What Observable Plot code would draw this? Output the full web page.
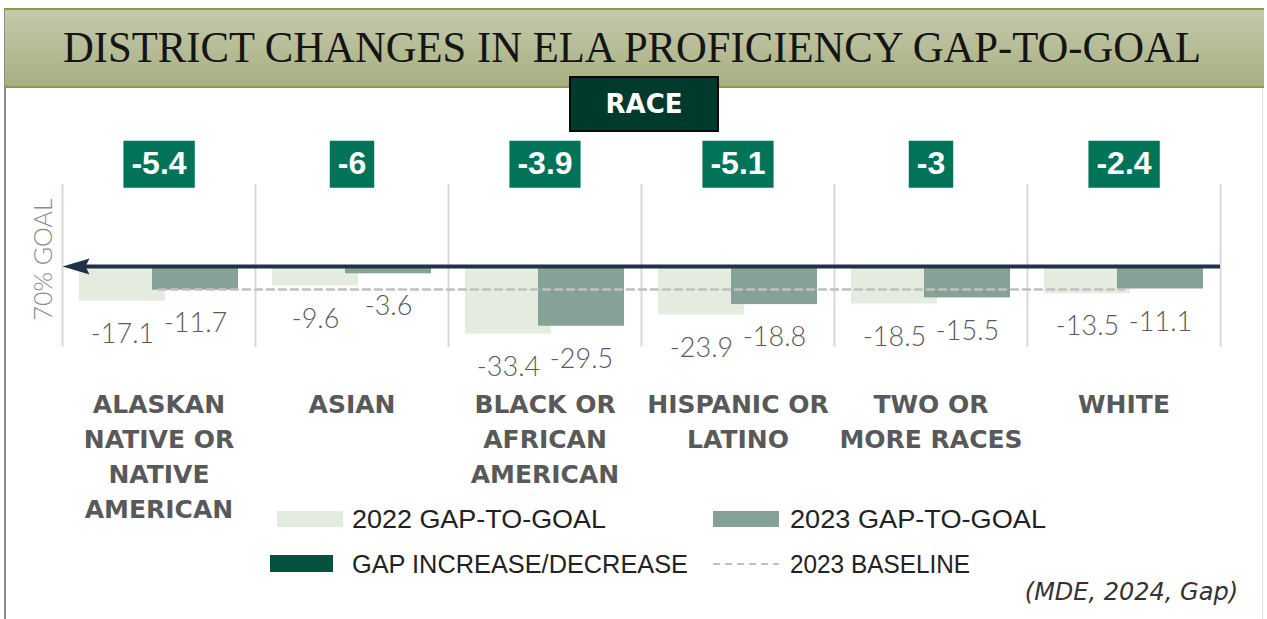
<!DOCTYPE html>
<html>
<head>
<meta charset="utf-8">
<script src="https://cdn.jsdelivr.net/npm/d3@7"></script>
<script src="https://cdn.jsdelivr.net/npm/@observablehq/plot@0.6"></script>
<style>
  html, body { margin: 0; padding: 0; background: #fff; }
  #wrap { position: relative; width: 1267px; height: 619px; overflow: hidden; background: #fff; }
  #header { position: absolute; left: 4px; top: 8px; width: 1260px; height: 80px; box-sizing: border-box;
            border-top: 2px solid #8e9a48; border-bottom: 2px solid #8e9a48; border-left: 1px solid #8c8c8c;
            background: linear-gradient(#c4caac, #a8af81); }
  #header svg { position: absolute; left: 0; top: 0; }
  #lborder { position: absolute; left: 4px; top: 88px; width: 2px; height: 531px; background: #8a8a8a; }
  #rborder { position: absolute; left: 1262px; top: 88px; width: 1px; height: 531px; background: #e0e0e0; }
  #chart { position: absolute; left: 0; top: 88px; }
  #race { position: absolute; left: 569px; top: 76px; width: 150px; height: 56px; box-sizing: border-box;
          background: #003a2c; border: 2px solid #0a0a0a; color: #fff; font: bold 26px 'DejaVu Sans', sans-serif;
          display: flex; align-items: center; justify-content: center; z-index: 3; }
  #legend { position: absolute; left: 0; top: 0; pointer-events: none; }
  #caption { position: absolute; right: 29px; top: 578px; line-height: 30px; font: italic 24px 'DejaVu Sans', sans-serif; color: #333; }
</style>
</head>
<body>
<div id="wrap">
  <div id="header"></div>
  <div id="lborder"></div>
  <div id="rborder"></div>
  <div id="chart"></div>
  <div id="race"></div>
  <svg id="legend" width="1267" height="619"></svg>
  <div id="caption"></div>
</div>
<script>
// ---------- data ----------
const title = "DISTRICT CHANGES IN ELA PROFICIENCY GAP-TO-GOAL";
const groupTitle = "RACE";
const categories = ["ALASKAN NATIVE OR NATIVE AMERICAN", "ASIAN", "BLACK OR AFRICAN AMERICAN", "HISPANIC OR LATINO", "TWO OR MORE RACES", "WHITE"];
const categoryLabels = ["ALASKAN\nNATIVE OR\nNATIVE\nAMERICAN", "ASIAN", "BLACK OR\nAFRICAN\nAMERICAN", "HISPANIC OR\nLATINO", "TWO OR\nMORE RACES", "WHITE"];
const gap2022 = [-17.1, -9.6, -33.4, -23.9, -18.5, -13.5];
const gap2023 = [-11.7, -3.6, -29.5, -18.8, -15.5, -11.1];
const gapChange = [-5.4, -6, -3.9, -5.1, -3, -2.4];
const baseline2023 = -11.3;
const goalLabel = "70% GOAL";
const legendLabels = ["2022 GAP-TO-GOAL", "2023 GAP-TO-GOAL", "GAP INCREASE/DECREASE", "2023 BASELINE"];
const caption = "(MDE, 2024, Gap)";

// ---------- colours ----------
const c2022 = "#e3ecdf", c2023 = "#86a196", cBadge = "#007358", cDark = "#02523f", cArrow = "#1f3246", cBase = "#c0c0c0";

// ---------- header ----------
d3.select("#header").append("svg").attr("width", 1259).attr("height", 76)
  .append("text").attr("x", 58).attr("y", 52)
  .attr("textLength", 1138).attr("lengthAdjust", "spacingAndGlyphs")
  .attr("font-family", "'Liberation Serif', 'DejaVu Serif', serif").attr("font-size", 45).attr("fill", "#151515")
  .text(title);
d3.select("#race").text(groupTitle);
d3.select("#caption").text(caption);

// ---------- chart ----------
const rows = categories.map((c, i) => ({cat: c, label: categoryLabels[i], g22: gap2022[i], g23: gap2023[i], chg: gapChange[i]}));
const half = 96.5; // half band width in px
const arrowHead = {
  draw(ctx) { ctx.moveTo(0, 0); ctx.lineTo(27, -8); ctx.lineTo(23, 0); ctx.lineTo(27, 8); ctx.closePath(); }
};
const valueStyle = {fill: "#595959", fontSize: 27, fontWeight: 300, fontFamily: "Lato, 'DejaVu Sans', sans-serif", dy: 33};

const plot = Plot.plot({
  width: 1267, height: 442,
  marginLeft: 62, marginRight: 47, marginTop: 96, marginBottom: 183,
  style: {background: "transparent", overflow: "visible"},
  x: {type: "band", domain: categories, padding: 0, axis: null},
  y: {domain: [-40, 40.5], axis: null},
  marks: [
    Plot.ruleX(categories, {x: d => d, dx: -half, stroke: "#d9d9d9", strokeWidth: 2}),
    Plot.ruleX(categories.slice(-1), {x: d => d, dx: half, stroke: "#d9d9d9", strokeWidth: 2}),
    Plot.barY(rows, {x: "cat", y: "g22", fill: c2022, insetLeft: 17, insetRight: 90}),
    Plot.barY(rows, {x: "cat", y: "g23", fill: c2023, insetLeft: 90, insetRight: 17}),
    Plot.lineY(categories, {x: d => d, y: () => baseline2023, stroke: cBase, strokeWidth: 2.5, strokeDasharray: "7,5"}),
    Plot.ruleY([0], {stroke: cArrow, strokeWidth: 4, insetLeft: 20}),
    Plot.dot([0], {x: () => categories[0], y: d => d, dx: -half, symbol: arrowHead, r: 10, fill: cArrow, stroke: "none"}),
    Plot.text(rows, {x: "cat", y: "g22", text: d => String(d.g22), dx: -36.5, ...valueStyle}),
    Plot.text(rows, {x: "cat", y: "g23", text: d => String(d.g23), dx: 36.5, ...valueStyle}),
    Plot.text(rows, {x: "cat", text: d => String(d.chg), frameAnchor: "top", lineAnchor: "middle", textAnchor: "middle", dy: -20.5, fill: "#ffffff",
      fontSize: 32, fontWeight: "bold", fontFamily: "'Liberation Sans Narrow', 'Liberation Sans', sans-serif", className: "badge"}),
    Plot.text(rows, {x: "cat", text: "label", frameAnchor: "bottom", lineAnchor: "top", dy: 41, lineHeight: 1.4,
      fontSize: 25, fontWeight: "bold", fill: "#595959", fontFamily: "'DejaVu Sans', sans-serif"}),
    Plot.text([goalLabel], {y: () => 0, text: d => d, frameAnchor: "left", textAnchor: "middle", lineAnchor: "middle", rotate: -90, dx: -19, dy: -7,
      fontSize: 25, fill: "#8a8a8a", fontFamily: "Lato, 'DejaVu Sans', sans-serif", fontWeight: 300})
  ]
});
document.getElementById("chart").appendChild(plot);

// badge backgrounds behind the change values
plot.querySelectorAll("g.badge text").forEach(t => {
  const b = t.getBBox();
  const r = document.createElementNS("http://www.w3.org/2000/svg", "rect");
  const cy = b.y + b.height / 2 + 1;
  r.setAttribute("x", b.x - 8);
  r.setAttribute("y", cy - 23.5);
  r.setAttribute("width", b.width + 16);
  r.setAttribute("height", 47);
  r.setAttribute("fill", cBadge);
  if (t.getAttribute("transform")) r.setAttribute("transform", t.getAttribute("transform"));
  t.parentNode.insertBefore(r, t);
});

// ---------- legend ----------
const lg = d3.select("#legend");
const legendItems = [
  {kind: "rect", color: c2022, sx: 277, sy: 511, sw: 66, sh: 16, tx: 352, ty: 528, tl: 254},
  {kind: "rect", color: c2023, sx: 713, sy: 511, sw: 66, sh: 16, tx: 790, ty: 528, tl: 256},
  {kind: "rect", color: cDark, sx: 270, sy: 555, sw: 63, sh: 17, tx: 352, ty: 573, tl: 336},
  {kind: "line", color: cBase, sx: 713, sy: 564, sw: 66, sh: 0, tx: 790, ty: 573, tl: 180}
];
legendItems.forEach((it, i) => {
  if (it.kind === "rect") {
    lg.append("rect").attr("x", it.sx).attr("y", it.sy).attr("width", it.sw).attr("height", it.sh).attr("fill", it.color);
  } else {
    lg.append("line").attr("x1", it.sx).attr("x2", it.sx + it.sw).attr("y1", it.sy).attr("y2", it.sy)
      .attr("stroke", it.color).attr("stroke-width", 2).attr("stroke-dasharray", "7,5");
  }
  lg.append("text").attr("x", it.tx).attr("y", it.ty).attr("textLength", it.tl).attr("lengthAdjust", "spacingAndGlyphs")
    .attr("font-family", "'Liberation Sans Narrow', 'Liberation Sans', sans-serif").attr("font-size", 26).attr("fill", "#222")
    .text(legendLabels[i]);
});
</script>
</body>
</html>
